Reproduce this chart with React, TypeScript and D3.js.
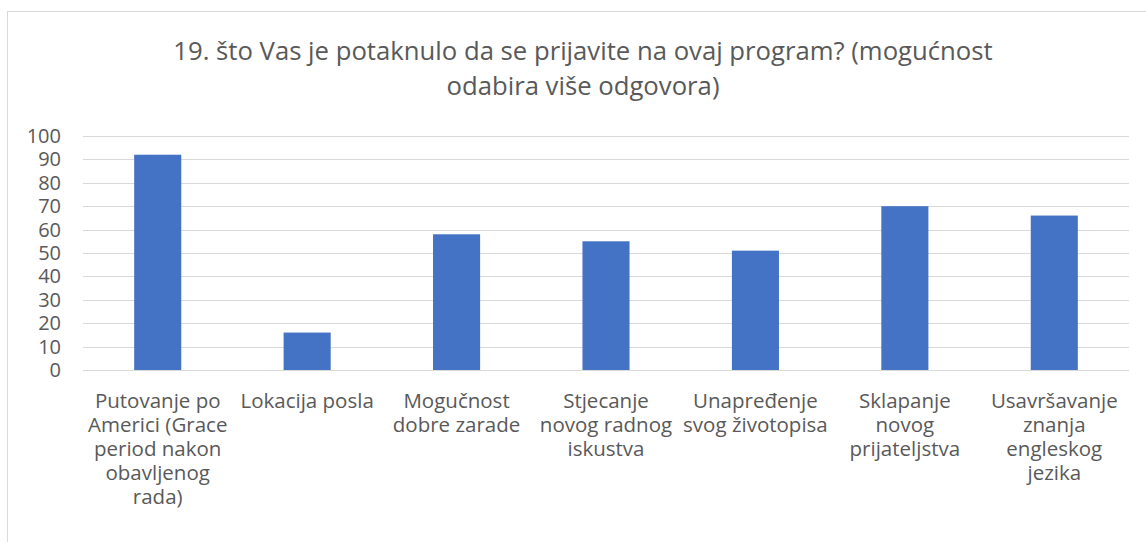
import React from 'react';
import * as d3 from 'd3';

// chart data
const categories: string[][] = [
    ['Putovanje po', 'Americi (Grace', 'period nakon', 'obavljenog', 'rada)'],
    ['Lokacija posla'],
    ['Mogučnost', 'dobre zarade'],
    ['Stjecanje', 'novog radnog', 'iskustva'],
    ['Unapređenje', 'svog životopisa'],
    ['Sklapanje', 'novog', 'prijateljstva'],
    ['Usavršavanje', 'znanja', 'engleskog', 'jezika'],
];
const values = [92, 16, 58, 55, 51, 70, 66];
const yTicks = [0, 10, 20, 30, 40, 50, 60, 70, 80, 90, 100];
const titleLines = [
    '19. što Vas je potaknulo da se prijavite na ovaj program? (mogućnost',
    'odabira više odgovora)',
];

const width = 1146, height = 542;
const plot = { left: 83, right: 1129, top: 136, bottom: 370 };
const font = '"Open Sans", sans-serif';
const textColor = '#595959';

export default function App() {
    // scales for the plot area
    const x = d3.scaleBand<number>()
        .domain(d3.range(categories.length))
        .range([plot.left, plot.right]);
    const y = d3.scaleLinear().domain([0, 100]).range([plot.bottom, plot.top]);
    const barWidth = x.bandwidth() * 0.315;

    return (
        <div style={{ position: 'absolute', left: 0, top: 0 }}>
            <svg width={width} height={height} style={{ display: 'block' }}>
                <rect x={0} y={0} width={width} height={height} fill="#fff" />
                {/* chart border */}
                <rect x={7.5} y={11.5} width={1160} height={600} fill="none" stroke="#d9d9d9" />

                {/* title */}
                {titleLines.map((t, i) => (
                    <text key={i} x={583} y={60 + i * 35} textAnchor="middle"
                        fontFamily={font} fontSize={25.7} fill={textColor}>{t}</text>
                ))}

                {/* gridlines and y tick labels */}
                {yTicks.map(t => (
                    <g key={t}>
                        <line x1={plot.left} x2={plot.right} y1={Math.round(y(t)) + 0.5} y2={Math.round(y(t)) + 0.5}
                            stroke="#d9d9d9" strokeWidth={1} />
                        <text x={61} y={y(t)} dy="0.35em" textAnchor="end"
                            fontFamily={font} fontSize={20} fill={textColor}>{t}</text>
                    </g>
                ))}

                {/* bars */}
                {values.map((v, i) => (
                    <rect key={i}
                        x={x(i)! + x.bandwidth() / 2 - barWidth / 2}
                        y={y(v)}
                        width={barWidth}
                        height={y(0) - y(v)}
                        fill="#4472c4" />
                ))}

                {/* category labels */}
                {categories.map((lines, i) => (
                    <text key={i} textAnchor="middle" fontFamily={font} fontSize={20.5} fill={textColor}>
                        {lines.map((l, j) => (
                            <tspan key={j} x={x(i)! + x.bandwidth() / 2} y={408 + j * 24}>{l}</tspan>
                        ))}
                    </text>
                ))}
            </svg>
        </div>
    );
}
